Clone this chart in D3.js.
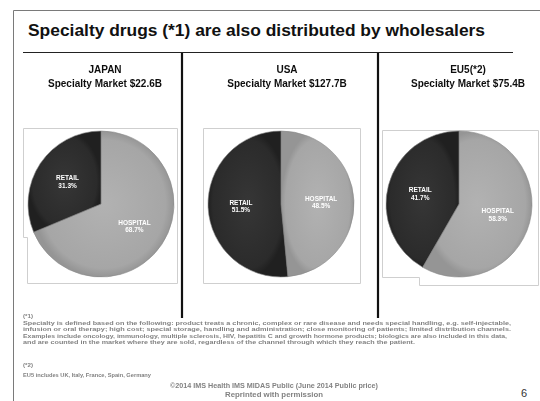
<!DOCTYPE html>
<html>
<head>
<meta charset="utf-8">
<script src="https://cdn.jsdelivr.net/npm/d3@7"></script>
<style>
  html, body { margin: 0; padding: 0; background: #fff; }
  svg { display: block; font-family: Arial, "Liberation Sans", sans-serif; }
</style>
</head>
<body>
<svg id="slide" width="540" height="401"></svg>
<script>
// Specialty-drug market split by channel, per region
const regions = ["JAPAN", "USA", "EU5(*2)"];
const marketSizeB = [22.6, 127.7, 75.4];          // US$ billions
const channels = ["HOSPITAL", "RETAIL"];
const hospitalShare = [68.7, 48.5, 58.3];          // %
const retailShare = [31.3, 51.5, 41.7];            // %

const titleText = "Specialty drugs (*1) are also distributed by wholesalers";
const noteLines = [
  "(*1)",
  "Specialty is defined based on the following: product treats a chronic, complex or rare disease and needs special handling, e.g. self-injectable,",
  "infusion or oral therapy; high cost; special storage, handling and administration; close monitoring of patients; limited distribution channels.",
  "Examples include oncology, immunology, multiple sclerosis, HIV, hepatitis C and growth hormone products; biologics are also included in this data,",
  "and are counted in the market where they are sold, regardless of the channel through which they reach the patient."
];
const note2Lines = ["(*2)", "EU5 includes UK, Italy, France, Spain, Germany"];
const sourceLines = ["©2014 IMS Health  IMS MIDAS Public  (June 2014 Public price)", "Reprinted with permission"];

const svg = d3.select("#slide");

// soft-focus filter for the tiny print
const defs = svg.append("defs");
defs.append("filter").attr("id", "soft")
  .append("feGaussianBlur").attr("stdDeviation", 0.45);

// shaded fills for the two channels
const grad = [
  { id: "gHosp", c0: "#b2b2b2", c1: "#a6a6a6", c2: "#959595" },
  { id: "gRet", c0: "#363636", c1: "#2b2b2b", c2: "#202020" }
];
grad.forEach(g => {
  const rg = defs.append("radialGradient").attr("id", g.id)
    .attr("gradientUnits", "objectBoundingBox").attr("cx", 0.5).attr("cy", 0.5).attr("r", 0.5);
  rg.append("stop").attr("offset", "0%").attr("stop-color", g.c0);
  rg.append("stop").attr("offset", "88%").attr("stop-color", g.c1);
  rg.append("stop").attr("offset", "100%").attr("stop-color", g.c2);
});
const fillFor = d3.scaleOrdinal().domain(channels).range(["url(#gHosp)", "url(#gRet)"]);

// slide frame
svg.append("path")
  .attr("d", "M13.5,401 V10.5 H540")
  .attr("fill", "none").attr("stroke", "#7a7a7a").attr("stroke-width", 1);

// title and rule
svg.append("text")
  .attr("x", 28).attr("y", 36)
  .attr("font-size", 16).attr("font-weight", "bold").attr("fill", "#111")
  .attr("textLength", 457).attr("lengthAdjust", "spacingAndGlyphs")
  .text(titleText);
svg.append("line")
  .attr("x1", 23).attr("x2", 513).attr("y1", 52.5).attr("y2", 52.5)
  .attr("stroke", "#222").attr("stroke-width", 1.2);

// column dividers
[182, 378].forEach(x => {
  svg.append("line").attr("x1", x).attr("x2", x).attr("y1", 53).attr("y2", 318)
    .attr("stroke", "#111").attr("stroke-width", 2.2);
});

// layout per column
const pieCx = [101, 281, 459];
const headCx = [105, 287, 468];
const pieCy = 204;
const radius = 73;

// chart-area outlines behind each pie
const frames = [
  "M23.5,237.5 V128.5 H177.5 V283.5 H27.5 V237.5 Z",
  "M203.5,128.5 H360.5 V283.5 H203.5 Z",
  "M382.5,130.5 H538.5 V285.5 H419.5 V277.5 H382.5 Z"
];
svg.append("g").selectAll("path").data(frames).join("path")
  .attr("d", d => d)
  .attr("fill", "none").attr("stroke", "#cfcfcf").attr("stroke-width", 1);

const pie = d3.pie().sort(null).value(d => d.value);
const arc = d3.arc().innerRadius(0).outerRadius(radius);
const labelArc = d3.arc().innerRadius(radius * 0.55).outerRadius(radius * 0.55);

regions.forEach((name, i) => {
  const head = svg.append("g").attr("filter", "url(#soft)");
  head.append("text").attr("x", headCx[i]).attr("y", 73)
    .attr("text-anchor", "middle").attr("font-size", 10).attr("font-weight", "bold").attr("fill", "#111")
    .text(name);
  head.append("text").attr("x", headCx[i]).attr("y", 87)
    .attr("text-anchor", "middle").attr("font-size", 10).attr("font-weight", "bold").attr("fill", "#111")
    .text(`Specialty Market $${marketSizeB[i].toFixed(1)}B`);

  const data = [
    { channel: "HOSPITAL", value: hospitalShare[i] },
    { channel: "RETAIL", value: retailShare[i] }
  ];
  const arcs = pie(data);
  const g = svg.append("g").attr("transform", `translate(${pieCx[i]},${pieCy})`);
  g.selectAll("path").data(arcs).join("path")
    .attr("d", arc)
    .attr("fill", d => fillFor(d.data.channel))
    .attr("stroke", "#8a8a8a").attr("stroke-width", 0.6);

  const lbl = g.append("g").attr("filter", "url(#soft)");
  arcs.forEach(d => {
    const [lx, ly] = labelArc.centroid(d);
    const t = lbl.append("text")
      .attr("transform", `translate(${lx},${ly})`)
      .attr("text-anchor", "middle").attr("font-size", 6.5).attr("font-weight", "bold").attr("fill", "#fff");
    t.append("tspan").attr("x", 0).attr("dy", "-0.2em").text(d.data.channel);
    t.append("tspan").attr("x", 0).attr("dy", "1.15em").text(d.data.value.toFixed(1) + "%");
  });
});

// footnotes
const notes = svg.append("g").attr("filter", "url(#soft)")
  .attr("font-weight", "bold").attr("fill", "#828282");
const noteWidths = [10, 488, 488, 484, 392];
noteLines.forEach((s, k) => {
  notes.append("text").attr("x", 23).attr("y", 318 + k * 6.6)
    .attr("font-size", 6)
    .attr("textLength", noteWidths[k]).attr("lengthAdjust", "spacingAndGlyphs")
    .text(s);
});
note2Lines.forEach((s, k) => {
  notes.append("text").attr("x", 23).attr("y", 367 + k * 10)
    .attr("font-size", 6)
    .attr("textLength", k === 0 ? 10 : 128).attr("lengthAdjust", "spacingAndGlyphs")
    .text(s);
});
sourceLines.forEach((s, k) => {
  notes.append("text").attr("x", 274).attr("y", 388 + k * 9)
    .attr("text-anchor", "middle").attr("font-size", 6.5)
    .attr("textLength", k === 0 ? 208 : 98).attr("lengthAdjust", "spacingAndGlyphs")
    .text(s);
});

// page number
svg.append("text").attr("x", 527).attr("y", 397)
  .attr("text-anchor", "end").attr("font-size", 11).attr("fill", "#333")
  .text("6");
</script>
</body>
</html>
